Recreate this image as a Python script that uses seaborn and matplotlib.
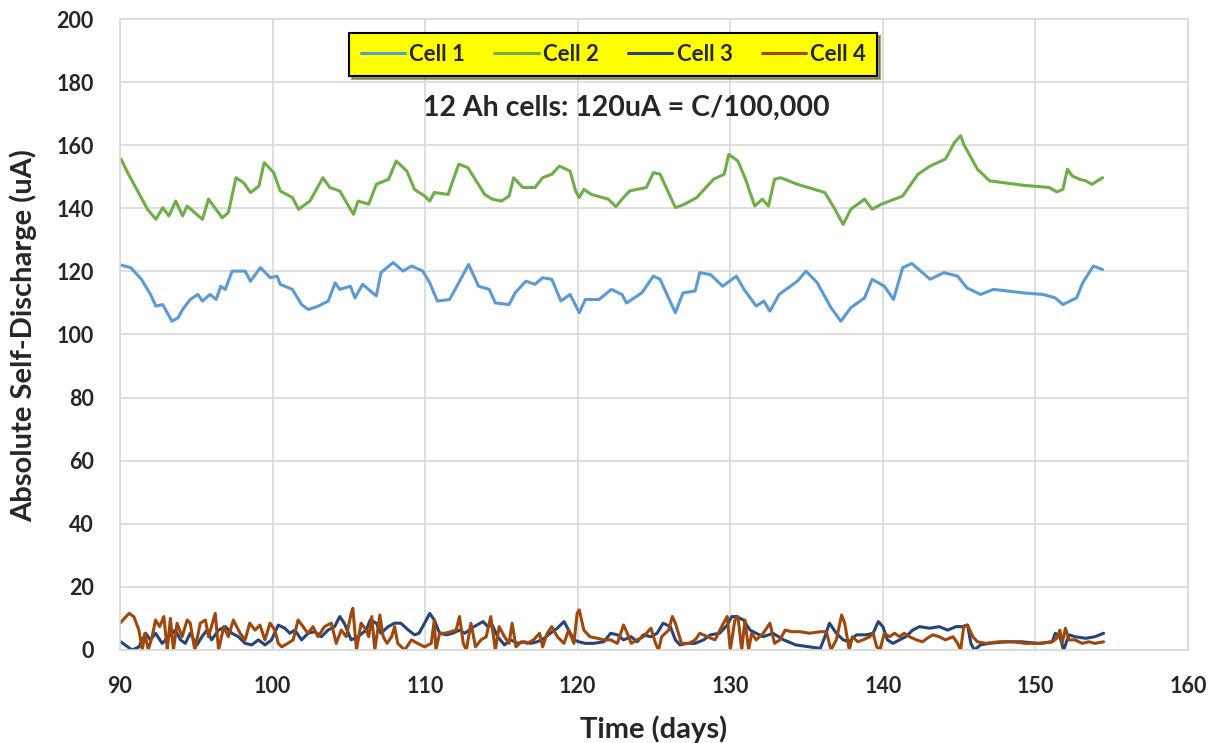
import pandas as pd
import seaborn as sns
import matplotlib.pyplot as plt

# Cell 1 (upper blue trace)
cell1_days = [90.07, 90.7, 91.4, 92.0, 92.35, 92.8, 93.4, 93.8, 94.1, 94.6, 95.1, 95.4, 95.9, 96.3,
              96.6, 96.9, 97.35, 98.2, 98.55, 99.2, 99.85, 100.3, 100.5, 101.3, 101.9, 102.35, 103.0,
              103.65, 104.1, 104.4, 105.1, 105.4, 105.9, 106.8, 107.1, 107.9, 108.55, 109.1, 109.85,
              110.3, 110.8, 111.6, 112.2, 112.85, 113.5, 114.2, 114.6, 115.5, 115.9, 116.6, 117.2,
              117.7, 118.3, 118.9, 119.5, 120.1, 120.5, 121.4, 122.2, 122.9, 123.2, 124.2, 124.96,
              125.4, 126.05, 126.4, 126.9, 127.7, 128.0, 128.7, 129.5, 130.4, 130.9, 131.7, 132.2,
              132.6, 133.2, 134.4, 134.96, 135.7, 136.6, 137.25, 137.9, 138.8, 139.3, 140.1, 140.7,
              141.3, 141.9, 143.1, 144.0, 144.9, 145.5, 146.4, 147.25, 149.2, 150.5, 151.3, 151.8,
              152.7, 153.1, 153.8, 154.4]
cell1_ua = [122.0, 121.2, 117.5, 112.7, 109.0, 109.5, 104.2, 105.3, 107.9, 111.1, 112.7, 110.6, 112.7,
            111.1, 115.3, 114.3, 120.1, 120.1, 116.9, 121.2, 118.0, 118.5, 115.9, 114.3, 109.5, 107.9,
            109.0, 110.6, 116.4, 114.3, 115.3, 111.6, 115.9, 112.2, 119.6, 122.8, 120.1, 121.7, 120.1,
            116.4, 110.6, 111.1, 116.4, 122.2, 115.3, 114.3, 110.0, 109.5, 113.2, 116.9, 115.9, 118.0,
            117.5, 110.6, 112.7, 106.9, 111.1, 111.1, 114.3, 112.7, 110.0, 113.2, 118.5, 117.5, 110.6,
            106.9, 113.2, 113.8, 119.6, 119.0, 115.3, 118.5, 114.3, 109.0, 110.6, 107.4, 112.7, 116.9,
            120.1, 116.4, 108.5, 104.2, 108.5, 111.6, 117.5, 115.3, 111.1, 121.2, 122.5, 117.5, 119.6,
            118.5, 114.8, 112.7, 114.3, 113.2, 112.7, 111.6, 109.5, 111.6, 116.4, 121.7, 120.6]

# Cell 2 (green trace)
cell2_days = [90.07, 90.5, 91.8, 92.35, 92.8, 93.2, 93.65, 94.1, 94.4, 95.4, 95.8, 96.7, 97.1, 97.6,
              98.1, 98.55, 99.1, 99.45, 100.07, 100.5, 101.3, 101.7, 102.45, 103.3, 103.75, 104.4,
              105.3, 105.6, 106.3, 106.8, 107.6, 108.1, 108.8, 109.3, 109.96, 110.3, 110.6, 111.5,
              112.2, 112.8, 113.9, 114.4, 115.0, 115.5, 115.8, 116.4, 117.2, 117.7, 118.3, 118.8,
              119.5, 119.86, 120.1, 120.4, 120.9, 122.0, 122.5, 122.9, 123.4, 124.5, 124.96, 125.4,
              126.4, 127.0, 127.8, 128.9, 129.6, 129.9, 130.5, 131.0, 131.6, 132.1, 132.5, 132.9,
              133.3, 134.4, 136.2, 136.8, 137.4, 137.9, 138.8, 139.3, 139.9, 141.3, 142.3, 143.1,
              144.1, 144.7, 145.1, 145.3, 146.2, 147.0, 149.2, 150.9, 151.4, 151.8, 152.1, 152.4,
              152.9, 153.3, 153.7, 154.4]
cell2_ua = [155.6, 151.3, 139.7, 136.5, 140.2, 137.6, 142.3, 137.6, 140.7, 136.5, 142.9, 137.0, 138.6,
            149.7, 148.1, 145.0, 147.0, 154.5, 151.3, 145.5, 143.4, 139.7, 142.3, 149.7, 146.6, 145.5,
            138.1, 142.3, 141.3, 147.6, 149.2, 155.0, 151.8, 146.0, 143.9, 142.3, 145.0, 144.4, 154.0,
            152.9, 144.4, 142.9, 142.3, 143.9, 149.7, 146.6, 146.6, 149.7, 150.8, 153.4, 151.8, 145.5,
            143.4, 146.0, 144.4, 142.9, 140.5, 142.9, 145.5, 146.6, 151.3, 150.8, 140.2, 141.3, 143.4,
            149.2, 150.8, 157.1, 155.0, 149.2, 140.7, 142.9, 140.7, 149.2, 149.7, 147.6, 145.0, 140.2,
            134.9, 139.7, 142.9, 139.7, 141.3, 143.9, 150.8, 153.4, 155.6, 160.9, 163.0, 160.3, 152.4,
            148.7, 147.3, 146.6, 145.2, 146.0, 152.4, 150.3, 149.2, 148.7, 147.6, 149.7]

# Cell 3 (dark blue, near zero)
cell3_days = [90.04, 90.5, 90.8, 91.24, 91.67, 92.0, 92.33, 92.76, 93.2, 93.63, 93.96, 94.28, 94.6,
              95.04, 95.37, 95.7, 96.0, 96.46, 96.9, 97.33, 97.76, 98.2, 98.63, 99.07, 99.5, 99.93,
              100.37, 100.8, 101.13, 101.46, 101.9, 102.33, 102.76, 103.2, 103.63, 104.07, 104.4,
              104.7, 105.15, 105.6, 106.13, 106.4, 106.8, 107.1, 107.57, 108.0, 108.4, 108.9, 109.3,
              109.6, 109.96, 110.3, 110.6, 110.95, 111.4, 111.8, 112.25, 112.6, 113.2, 113.8, 114.1,
              114.4, 114.75, 115.2, 115.6, 116.05, 116.5, 116.9, 117.35, 117.8, 118.2, 118.66, 119.1,
              119.4, 119.75, 120.07, 120.5, 121.05, 121.7, 122.16, 122.6, 123.0, 123.5, 123.9, 124.3,
              124.8, 125.2, 125.6, 126.07, 126.4, 126.7, 127.2, 127.7, 128.25, 128.7, 129.3, 129.8,
              130.1, 130.4, 130.86, 131.3, 131.7, 132.16, 132.8, 133.5, 134.3, 135.2, 135.9, 136.2,
              136.5, 136.95, 137.4, 137.8, 138.27, 138.9, 139.36, 139.7, 140.0, 140.3, 140.66, 141.1,
              141.5, 141.96, 142.4, 143.05, 143.7, 144.25, 144.8, 145.2, 145.55, 145.77, 146.0, 146.4,
              146.96, 148.05, 149.1, 150.2, 151.1, 151.3, 151.6, 151.85, 152.2, 152.6, 153.3, 153.9,
              154.47]
cell3_ua = [2.6, 1.0, 0.0, 1.0, 5.3, 3.2, 5.3, 2.1, 4.2, 6.3, 3.2, 2.1, 5.3, 1.6, 4.2, 6.3, 3.2, 6.3,
            7.4, 5.3, 4.2, 2.1, 1.6, 3.2, 1.6, 3.2, 7.9, 6.9, 5.3, 6.3, 3.2, 5.3, 5.8, 4.2, 6.3, 7.4,
            10.6, 8.5, 3.2, 4.2, 6.3, 9.5, 8.5, 5.3, 7.4, 8.5, 8.5, 6.3, 4.8, 5.3, 8.5, 11.6, 9.5, 5.3,
            4.8, 5.3, 6.3, 5.3, 7.4, 9.0, 7.4, 7.9, 4.2, 1.6, 3.2, 2.1, 2.6, 2.1, 2.6, 3.7, 5.3, 6.9,
            9.0, 6.3, 3.2, 2.6, 2.1, 2.1, 2.6, 5.3, 4.8, 3.2, 4.2, 2.6, 4.8, 4.2, 5.3, 8.5, 7.4, 3.2,
            1.6, 2.1, 2.1, 3.2, 4.8, 5.3, 7.9, 10.6, 10.6, 9.5, 6.3, 5.3, 4.2, 5.3, 3.2, 1.6, 1.0, 0.5,
            4.2, 8.5, 5.3, 3.2, 2.6, 4.8, 4.8, 5.3, 9.0, 7.4, 3.2, 2.1, 3.2, 4.2, 6.3, 7.4, 6.9, 7.4,
            6.3, 7.4, 7.4, 7.9, 2.1, 0.0, 1.6, 2.1, 2.6, 2.6, 2.1, 2.6, 5.3, 4.2, 0.0, 4.8, 4.2, 3.7,
            4.2, 5.3]

# Cell 4 (brown, near zero)
cell4_days = [90.0, 90.59, 90.9, 91.24, 91.46, 91.63, 91.85, 92.1, 92.33, 92.6, 92.87, 93.1, 93.3,
              93.5, 93.74, 94.07, 94.4, 94.6, 94.9, 95.26, 95.6, 95.8, 96.24, 96.46, 96.8, 97.1,
              97.43, 97.87, 98.2, 98.5, 98.85, 99.17, 99.5, 99.83, 100.15, 100.37, 100.6, 101.0,
              101.35, 101.67, 102.0, 102.3, 102.65, 102.98, 103.4, 103.85, 104.17, 104.5, 104.83,
              105.15, 105.26, 105.5, 105.8, 106.13, 106.3, 106.5, 106.7, 107.03, 107.25, 107.5, 107.8,
              108.0, 108.2, 108.66, 109.1, 109.5, 109.96, 110.4, 110.6, 110.7, 110.95, 111.3, 111.7,
              112.03, 112.25, 112.5, 112.7, 113.0, 113.3, 113.66, 114.0, 114.3, 114.6, 114.85, 115.2,
              115.5, 115.7, 115.95, 116.3, 116.7, 117.1, 117.5, 117.7, 118.0, 118.3, 118.66, 119.1,
              119.4, 119.75, 119.96, 120.1, 120.4, 120.8, 121.3, 121.7, 122.16, 122.6, 123.0, 123.25,
              123.5, 123.9, 124.3, 124.8, 125.1, 125.3, 125.5, 125.96, 126.2, 126.4, 126.6, 126.8,
              127.3, 127.7, 128.0, 128.5, 129.0, 129.55, 129.8, 130.0, 130.3, 130.5, 130.75, 130.96,
              131.2, 131.4, 131.7, 132.16, 132.6, 132.9, 133.25, 133.6, 134.0, 134.55, 135.2, 135.9,
              136.3, 136.6, 136.95, 137.3, 137.5, 137.8, 138.0, 138.36, 138.7, 139.14, 139.36, 139.6,
              139.8, 140.1, 140.44, 140.77, 141.1, 141.4, 141.75, 142.2, 142.6, 142.9, 143.27, 143.7,
              144.1, 144.6, 144.9, 145.1, 145.3, 145.55, 145.9, 146.2, 146.75, 147.6, 148.5, 149.35,
              150.45, 151.1, 151.4, 151.6, 151.75, 151.97, 152.2, 152.6, 153.05, 153.5, 153.9, 154.47]
cell4_ua = [8.5, 11.6, 10.6, 6.3, 0.0, 5.3, 0.0, 4.2, 9.5, 7.4, 10.6, 0.0, 10.0, 0.0, 8.5, 4.2, 9.5,
            8.5, 0.0, 8.5, 9.5, 4.2, 11.6, 0.0, 7.4, 4.2, 9.5, 5.3, 3.2, 8.5, 6.3, 7.9, 3.2, 8.5, 6.3,
            2.1, 1.0, 2.1, 3.2, 9.5, 7.4, 5.3, 7.4, 4.2, 7.4, 8.5, 2.1, 6.3, 4.2, 11.6, 13.2, 0.0, 8.5,
            6.3, 4.2, 10.6, 0.0, 11.1, 4.2, 2.1, 4.2, 7.4, 2.1, 0.0, 3.2, 2.1, 1.0, 2.1, 9.5, 0.0, 5.3,
            5.3, 5.8, 6.3, 10.6, 2.1, 0.0, 8.5, 1.0, 3.2, 4.2, 10.6, 0.0, 7.4, 4.2, 2.1, 8.5, 1.0, 2.6,
            2.1, 3.2, 5.3, 1.0, 5.3, 7.4, 4.2, 2.1, 6.3, 2.1, 11.6, 12.7, 6.3, 4.2, 3.7, 3.2, 3.2, 2.1,
            7.9, 5.3, 2.1, 3.2, 4.2, 6.9, 2.1, 0.0, 4.2, 6.3, 10.6, 8.5, 5.3, 2.1, 2.1, 3.2, 5.3, 4.2,
            3.2, 8.5, 10.6, 0.0, 9.5, 10.6, 0.0, 9.5, 0.0, 5.3, 3.2, 5.3, 8.5, 2.1, 3.2, 6.3, 5.8, 5.8,
            5.3, 5.8, 5.8, 0.0, 3.2, 11.1, 8.5, 0.0, 4.2, 2.6, 3.2, 4.2, 5.3, 1.0, 0.0, 5.3, 4.2, 5.3,
            4.2, 5.3, 4.2, 3.2, 2.6, 3.7, 4.8, 4.2, 3.2, 4.2, 2.1, 0.0, 7.4, 7.9, 4.2, 2.6, 2.1, 2.6,
            2.6, 2.1, 2.1, 2.6, 3.7, 6.3, 2.1, 6.9, 3.2, 3.2, 2.1, 2.6, 2.1, 2.6]

series_names = ["Cell 1", "Cell 2", "Cell 3", "Cell 4"]
series_colors = ["#5b9bd5", "#70ad47", "#264478", "#9e480e"]

x_ticks = list(range(90, 161, 10))
y_ticks = list(range(0, 201, 20))

sns.set_theme(style="white")
plt.rcParams["font.family"] = ["Lato", "DejaVu Sans"]

fig = plt.figure(figsize=(12.1, 7.43), dpi=100)
ax = fig.add_axes([0.0992, 0.1252, 0.8826, 0.8492])

all_days = [cell1_days, cell2_days, cell3_days, cell4_days]
all_ua = [cell1_ua, cell2_ua, cell3_ua, cell4_ua]
for name, color, d, v in zip(series_names, series_colors, all_days, all_ua):
    df = pd.DataFrame({"day": d, "ua": v})
    sns.lineplot(data=df, x="day", y="ua", ax=ax, color=color, linewidth=2.2,
                 label=name, estimator=None, sort=False)

ax.set_xlim(90, 160)
ax.set_ylim(0, 200)
ax.set_xticks(x_ticks)
ax.set_yticks(y_ticks)
ax.tick_params(length=0, labelsize=15.5, pad=19)
for lab in ax.get_xticklabels() + ax.get_yticklabels():
    lab.set_fontweight("bold")
ax.grid(True, color="#d9d9d9", linewidth=1.2)
for s in ax.spines.values():
    s.set_color("#d9d9d9")
    s.set_linewidth(1.2)

ax.set_xlabel("Time (days)", fontsize=21, fontweight="bold")
ax.set_ylabel("Absolute Self-Discharge (uA)", fontsize=21, fontweight="bold")
ax.xaxis.set_label_coords(0.5, -0.104)
ax.yaxis.set_label_coords(-0.078, 0.4976)

leg = ax.legend(loc="upper center", bbox_to_anchor=(0.462, 0.978), ncol=4, frameon=True,
                fancybox=False, shadow=True, facecolor="#ffff00", edgecolor="black",
                prop={"weight": "bold", "size": 16}, handlelength=2.0, handletextpad=0.2,
                columnspacing=1.3, borderpad=0.5, borderaxespad=0)
leg.get_frame().set_linewidth(1.5)
leg.get_frame().set_alpha(1)

ax.text(0.474, 0.859, "12 Ah cells: 120uA = C/100,000", transform=ax.transAxes,
        ha="center", va="center", fontsize=20.5, fontweight="bold")

fig.savefig("out.png", dpi=100)
